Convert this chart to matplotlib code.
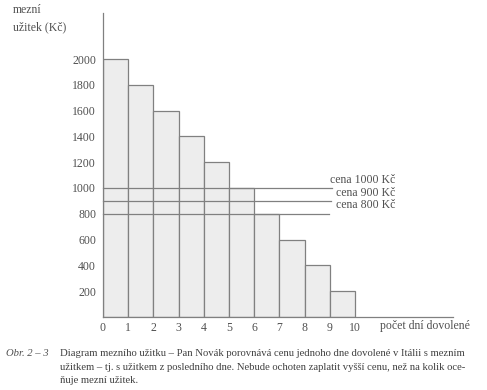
import matplotlib
matplotlib.use("Agg")
import matplotlib.pyplot as plt
import numpy as np

days = [1, 2, 3, 4, 5, 6, 7, 8, 9, 10]
utility = [2000, 1800, 1600, 1400, 1200, 1000, 800, 600, 400, 200]
y_ticks = [200, 400, 600, 800, 1000, 1200, 1400, 1600, 1800, 2000]
x_ticks = [0, 1, 2, 3, 4, 5, 6, 7, 8, 9, 10]
prices = [1000, 900, 800]
price_labels = ["cena 1000 Kč", "cena 900 Kč", "cena 800 Kč"]
price_line_ends = [9.1, 9.05, 8.95]

plt.rcParams['font.family'] = ['Liberation Serif', 'DejaVu Serif']
W, H = 487, 390
fig = plt.figure(figsize=(W / 100, H / 100), dpi=100)
fig.patch.set_facecolor('white')

x0, x1 = 103, 453
y0, y1 = 317, 13
ax = fig.add_axes([x0 / W, (H - y0) / H, (x1 - x0) / W, (y0 - y1) / H])
ppx = 25.2
ppy = 0.129
ax.set_xlim(0, (x1 - x0) / ppx)
ax.set_ylim(0, (y0 - y1) / ppy)

edge = '#808080'
txt = '#505050'
ax.bar(np.array(days) - 1, utility, width=1, align='edge',
       color='#ededed', edgecolor=edge, linewidth=0.9, zorder=2)

for p, lab, xe in zip(prices, price_labels, price_line_ends):
    ax.plot([0, xe], [p, p], color=edge, lw=0.9, zorder=3, clip_on=False)
    ax.annotate(lab, xy=(11.6, p), xytext=(0, 6), textcoords='offset points',
                ha='right', va='center', fontsize=8.5, color=txt,
                annotation_clip=False)

for s in ['top', 'right']:
    ax.spines[s].set_visible(False)
for s in ['left', 'bottom']:
    ax.spines[s].set_color(edge)
    ax.spines[s].set_linewidth(0.9)

ax.set_yticks(y_ticks)
ax.set_yticklabels([str(v) for v in y_ticks])
ax.set_xticks(x_ticks)
ax.set_xticklabels([str(v) for v in x_ticks])
ax.tick_params(axis='both', length=0, labelsize=8.5, labelcolor=txt)
ax.tick_params(axis='y', pad=5)
ax.tick_params(axis='x', pad=3.5)
ax.set_facecolor('white')

fig.text(380 / W, 1 - 326 / H, "počet dní dovolené", fontsize=8.5,
         color=txt, va='center', ha='left')
fig.text(13 / W, 1 - 10 / H, "mezní", fontsize=8.5, color=txt,
         va='center', ha='left')
fig.text(13 / W, 1 - 27 / H, "užitek (Kč)", fontsize=8.5, color=txt,
         va='center', ha='left')

fig.text(6 / W, 1 - 354 / H, "Obr. 2 – 3", fontsize=7.65, style='italic',
         color=txt, va='center', ha='left')
cap = ["Diagram mezního užitku – Pan Novák porovnává cenu jednoho dne dovolené v Itálii s mezním",
       "užitkem – tj. s užitkem z posledního dne. Nebude ochoten zaplatit vyšší cenu, než na kolik oce-",
       "ňuje mezní užitek."]
for i, line in enumerate(cap):
    fig.text(60 / W, 1 - (354 + 13.3 * i) / H, line, fontsize=7.65,
             color='#404040', va='center', ha='left')

fig.savefig("out.png", dpi=100, facecolor='white')
